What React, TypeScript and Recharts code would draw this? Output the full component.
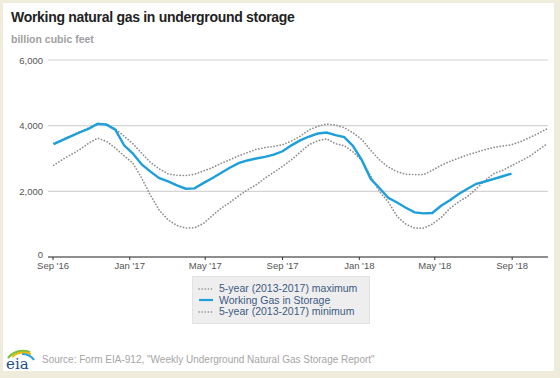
import { LineChart, Line, XAxis, YAxis, CartesianGrid } from "recharts";

const weeks = [
  "2016-09-02", "2016-09-16", "2016-09-30", "2016-10-14", "2016-10-28", "2016-11-11", "2016-11-25",
  "2016-12-09", "2016-12-23", "2017-01-06", "2017-01-20", "2017-02-03", "2017-02-17", "2017-03-03",
  "2017-03-17", "2017-03-31", "2017-04-14", "2017-04-28", "2017-05-12", "2017-05-26", "2017-06-09",
  "2017-06-23", "2017-07-07", "2017-07-21", "2017-08-04", "2017-08-18", "2017-09-01", "2017-09-15",
  "2017-09-29", "2017-10-13", "2017-10-27", "2017-11-10", "2017-11-24", "2017-12-08", "2017-12-22",
  "2018-01-05", "2018-01-19", "2018-02-02", "2018-02-16", "2018-03-02", "2018-03-16", "2018-03-30",
  "2018-04-13", "2018-04-27", "2018-05-11", "2018-05-25", "2018-06-08", "2018-06-22", "2018-07-06",
  "2018-07-20", "2018-08-03", "2018-08-17", "2018-08-31", "2018-09-14", "2018-09-28", "2018-10-12",
  "2018-10-26",
];

const working = [
  3440, 3560, 3680, 3800, 3910, 4060, 4030, 3880, 3400, 3150, 2820, 2600, 2400, 2300,
  2180, 2080, 2090, 2250, 2400, 2560, 2720, 2860, 2940, 3000, 3050, 3120, 3220, 3400,
  3550, 3670, 3760, 3790, 3710, 3650, 3380, 2950, 2380, 2100, 1800, 1660, 1500, 1360,
  1330, 1340, 1560, 1730, 1920, 2080, 2230, 2300, 2380, 2460, 2540,
];

const maxRange = [
  3460, 3580, 3700, 3820, 3930, 4030, 4060, 3900, 3680, 3450, 3160, 2880, 2680, 2530,
  2490, 2480, 2520, 2620, 2720, 2850, 2960, 3080, 3180, 3280, 3330, 3370, 3420, 3530,
  3680, 3870, 3980, 4050, 4020, 3940, 3780, 3580, 3250, 2960, 2740, 2600, 2520, 2510,
  2510, 2640, 2790, 2910, 3010, 3110, 3190, 3270, 3340, 3380, 3420, 3510, 3630, 3760,
  3900,
];

const minRange = [
  2790, 2970, 3120, 3280, 3470, 3620, 3520, 3320, 3080, 2860, 2400, 1880, 1420, 1130,
  960, 880, 890, 1020, 1260, 1480, 1660, 1860, 2040, 2200, 2400, 2580, 2760, 2960,
  3190, 3420, 3540, 3600, 3450, 3390, 3200, 2940, 2470, 2000, 1680, 1240, 1000, 880,
  880, 1000, 1200, 1480, 1680, 1840, 2080, 2330, 2540, 2640, 2780, 2920, 3060, 3250,
  3440,
];

const tickDates = ["2016-09-01", "2017-01-01", "2017-05-01", "2017-09-01", "2018-01-01", "2018-05-01", "2018-09-01"];
const tickLabels = ["Sep '16", "Jan '17", "May '17", "Sep '17", "Jan '18", "May '18", "Sep '18"];
const yTicks = [0, 2000, 4000, 6000];

const origin = Date.UTC(2016, 8, 1);
const toDay = (s: string) => {
  const [y, m, d] = s.split("-").map(Number);
  return Math.round((Date.UTC(y, m - 1, d) - origin) / 86400000);
};

const data = weeks.map((w, i) => ({
  day: toDay(w),
  working: working[i] ?? null,
  max: maxRange[i],
  min: minRange[i],
}));

const xTicks = tickDates.map(toDay);
const fmtX = (v: number) => tickLabels[xTicks.indexOf(v)] ?? "";

const BLUE = "#1e9fdc";
const DOT = "#8c8c8c";
const FONT = "'Liberation Sans', Arial, sans-serif";

// y labels; the zero sits a little higher so it clears "Sep '16"
const YTick = (props: any) => {
  const { x, y, payload } = props;
  return (
    <text x={x} y={payload.value === 0 ? y - 3 : y} dy={3.5} textAnchor="end" fill="#555" fontSize={9.5}>
      {payload.value.toLocaleString("en-US")}
    </text>
  );
};

const DotSwatch = () => (
  <svg width={16} height={6} style={{ marginRight: 5 }}>
    <line x1={1} y1={3} x2={15} y2={3} stroke={DOT} strokeWidth={1.6} strokeDasharray="0.1 3" strokeLinecap="round" />
  </svg>
);

const LineSwatch = () => (
  <svg width={16} height={6} style={{ marginRight: 5 }}>
    <line x1={1} y1={3} x2={15} y2={3} stroke={BLUE} strokeWidth={2.2} />
  </svg>
);

const EiaLogo = () => (
  <svg width={32} height={26} style={{ position: "absolute", left: 4, top: 346 }}>
    <path d="M4 12 Q12 2 26 6" fill="none" stroke="#7bbf3a" strokeWidth={2.2} />
    <path d="M8 11 Q16 4 27 8" fill="none" stroke="#f2b705" strokeWidth={2} />
    <path d="M18 8 Q26 8 30 14" fill="none" stroke="#2aa3dc" strokeWidth={2.2} />
    <text x={2} y={23} fontFamily="'DejaVu Serif', serif" fontSize={15} fill="#1f4e86">eia</text>
  </svg>
);

export default function App() {
  return (
    <div style={{ position: "absolute", left: 0, top: 0, width: 560, height: 378, background: "#efecdc", fontFamily: FONT }}>
      <div style={{ position: "absolute", left: 3, top: 3, width: 551, height: 368, background: "#ffffff" }} />
      <div style={{ position: "absolute", left: 11, top: 9, fontSize: 14, letterSpacing: -0.3, fontWeight: "bold", color: "#222" }}>
        Working natural gas in underground storage
      </div>
      <div style={{ position: "absolute", left: 11, top: 33, fontSize: 10.5, fontWeight: "bold", color: "#a0a0a0" }}>
        billion cubic feet
      </div>
      <div style={{ position: "absolute", left: 0, top: 0 }}>
        <LineChart width={560} height={290} data={data} margin={{ top: 60, right: 12, bottom: 13, left: 8 }}>
          <CartesianGrid vertical={false} stroke="#d4d4d4" strokeWidth={1.2} />
          <XAxis
            dataKey="day"
            type="number"
            domain={[-8, 787]}
            ticks={xTicks}
            tickFormatter={fmtX}
            height={20}
            stroke="#333"
            tickSize={3}
            tick={{ fill: "#555", fontSize: 9.5 }}
            tickMargin={2}
            interval={0}
          />
          <YAxis
            width={40}
            domain={[0, 6000]}
            ticks={yTicks}
            axisLine={false}
            tickLine={false}
            tickSize={0}
            tickMargin={5}
            tick={<YTick />}
          />
          <Line dataKey="max" stroke={DOT} strokeWidth={1.7} strokeDasharray="0.1 3" strokeLinecap="round" dot={false} isAnimationActive={false} />
          <Line dataKey="min" stroke={DOT} strokeWidth={1.7} strokeDasharray="0.1 3" strokeLinecap="round" dot={false} isAnimationActive={false} />
          <Line dataKey="working" stroke={BLUE} strokeWidth={2.4} dot={false} connectNulls={false} isAnimationActive={false} />
        </LineChart>
      </div>
      <div
        style={{
          position: "absolute", left: 192, top: 276, width: 178, height: 48, boxSizing: "border-box",
          background: "#eeeeee", border: "1px solid #e2e2e2", padding: "6px 0 0 5px",
          fontSize: 10.5, color: "#3d5a80", lineHeight: "11.5px",
        }}
      >
        <div style={{ display: "flex", alignItems: "center" }}><DotSwatch />5-year (2013-2017) maximum</div>
        <div style={{ display: "flex", alignItems: "center" }}><LineSwatch />Working Gas in Storage</div>
        <div style={{ display: "flex", alignItems: "center" }}><DotSwatch />5-year (2013-2017) minimum</div>
      </div>
      <EiaLogo />
      <div style={{ position: "absolute", left: 42, top: 354, fontSize: 10, color: "#a5a5a5" }}>
        Source: Form EIA-912, "Weekly Underground Natural Gas Storage Report"
      </div>
    </div>
  );
}
